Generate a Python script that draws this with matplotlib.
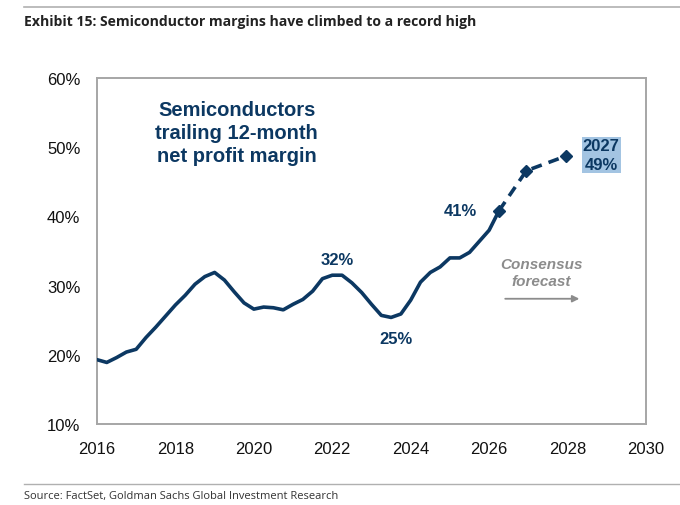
import matplotlib
matplotlib.use("Agg")
import matplotlib.pyplot as plt
from matplotlib.lines import Line2D

# trailing 12-month net profit margin, quarterly (%)
years = [2016.00, 2016.25, 2016.50, 2016.75, 2017.00, 2017.25, 2017.50, 2017.75,
         2018.00, 2018.25, 2018.50, 2018.75, 2019.00, 2019.25, 2019.50, 2019.75,
         2020.00, 2020.25, 2020.50, 2020.75, 2021.00, 2021.25, 2021.50, 2021.75,
         2022.00, 2022.25, 2022.50, 2022.75, 2023.00, 2023.25, 2023.50, 2023.75,
         2024.00, 2024.25, 2024.50, 2024.75, 2025.00, 2025.25, 2025.50, 2025.75,
         2026.00, 2026.25]
margin = [19.3, 18.9, 19.6, 20.4, 20.8, 22.5, 24.0, 25.6,
          27.2, 28.6, 30.2, 31.3, 31.9, 30.8, 29.1, 27.5,
          26.6, 26.9, 26.8, 26.5, 27.3, 28.0, 29.2, 31.0,
          31.5, 31.5, 30.4, 29.0, 27.3, 25.7, 25.4, 25.9,
          27.9, 30.5, 31.9, 32.7, 34.0, 34.0, 34.8, 36.4,
          38.0, 40.8]

# consensus forecast
fc_years = [2026.25, 2026.95, 2027.95]
fc_margin = [40.8, 46.6, 48.7]

x_ticks = [2016, 2018, 2020, 2022, 2024, 2026, 2028, 2030]
y_ticks = [10, 20, 30, 40, 50, 60]

navy = "#0c3862"
grey_spine = "#a6a6a6"
font = ["Liberation Sans", "DejaVu Sans"]
title_font = ["Liberation Sans Narrow", "Open Sans", "DejaVu Sans"]

plt.rcParams["font.family"] = font

fig = plt.figure(figsize=(6.8, 5.06), dpi=100)
ax = fig.add_axes([0.1426, 0.160, 0.8074, 0.684])

ax.plot(years, margin, color=navy, linewidth=2.6, solid_capstyle="round", zorder=3)
ax.plot(fc_years, fc_margin, color=navy, linewidth=2.6, linestyle=(0, (3, 2)),
        marker="D", markersize=6, zorder=3)

ax.set_xlim(2016, 2030)
ax.set_ylim(10, 60)
ax.set_xticks(x_ticks)
ax.set_yticks(y_ticks)
ax.set_yticklabels([f"{v}%" for v in y_ticks])
ax.tick_params(length=0, labelsize=12, colors="#111111")
ax.tick_params(axis="x", pad=12)
ax.tick_params(axis="y", pad=12)
for side in ax.spines.values():
    side.set_color(grey_spine)
    side.set_linewidth(1.4)

ax.text(2019.56, 52.1, "Semiconductors\ntrailing 12-month\nnet profit margin",
        ha="center", va="center", fontsize=14.5, fontweight="bold", color=navy,
        linespacing=1.25)

ax.text(2022.12, 33.7, "32%", ha="center", va="center", fontsize=12,
        fontweight="bold", color=navy)
ax.text(2023.62, 22.4, "25%", ha="center", va="center", fontsize=12,
        fontweight="bold", color=navy)
ax.text(2025.26, 40.9, "41%", ha="center", va="center", fontsize=12,
        fontweight="bold", color=navy)
ax.text(2028.86, 48.9, "2027\n49%", ha="center", va="center", fontsize=12,
        fontweight="bold", color=navy, linespacing=1.3,
        bbox=dict(boxstyle="square,pad=0.08", facecolor="#a3c4e2", edgecolor="none"))

ax.text(2027.33, 31.9, "Consensus\nforecast", ha="center", va="center",
        fontsize=11, fontweight="bold", fontstyle="italic", color="#8c8c8c",
        linespacing=1.25)
ax.annotate("", xy=(2028.3, 28.1), xytext=(2026.41, 28.1),
            arrowprops=dict(arrowstyle="-|>", color="#8c8c8c", lw=1.3,
                            mutation_scale=10, shrinkA=0, shrinkB=0))

# header and footer rules
fig.add_artist(Line2D([24 / 680, 1.0], [1 - 8 / 506, 1 - 8 / 506],
                      color="#b0b0b0", linewidth=1.2))
fig.add_artist(Line2D([24 / 680, 1.0], [1 - 485 / 506, 1 - 485 / 506],
                      color="#b0b0b0", linewidth=1.0))
fig.text(24 / 680, 1 - 22 / 506, "Exhibit 15: Semiconductor margins have climbed to a record high",
         ha="left", va="center", fontsize=10.1, fontweight="bold",
         family=title_font, color="#222222")
fig.text(24 / 680, 1 - 497 / 506, "Source: FactSet, Goldman Sachs Global Investment Research",
         ha="left", va="center", fontsize=8, family=title_font, color="#333333")

fig.savefig("out.png", dpi=100)
